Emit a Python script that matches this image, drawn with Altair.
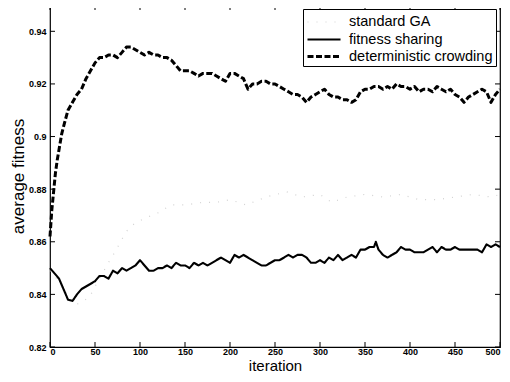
import altair as alt
import pandas as pd

series_names = ["standard GA", "fitness sharing", "deterministic crowding"]

ga_x = [0, 10, 20, 28, 35, 44, 50, 57, 63, 72, 80, 85, 94, 106, 120, 135, 150, 170, 185, 200,
        218, 240, 263, 280, 300, 313, 330, 350, 370, 390, 410, 430, 450, 470, 490, 500]
ga_y = [0.849, 0.845, 0.839, 0.836, 0.837, 0.839, 0.843, 0.847, 0.851, 0.856, 0.861, 0.864, 0.867,
        0.869, 0.871, 0.874, 0.874, 0.875, 0.875, 0.876, 0.874, 0.877, 0.879, 0.877, 0.878, 0.875,
        0.877, 0.878, 0.877, 0.878, 0.876, 0.876, 0.877, 0.878, 0.877, 0.878]

fs_x = [0, 5, 10, 15, 20, 25, 30, 35, 40, 45, 50, 55, 60, 65, 70, 75, 80, 85, 90, 95, 100, 105, 110,
        115, 120, 125, 130, 135, 140, 145, 150, 155, 160, 165, 170, 175, 180, 185, 190, 195, 200,
        205, 210, 215, 220, 225, 230, 235, 240, 245, 250, 255, 260, 265, 270, 275, 280, 285, 290,
        295, 300, 305, 310, 315, 320, 325, 330, 335, 340, 345, 350, 355, 360, 362, 365, 370, 375,
        380, 385, 390, 395, 400, 405, 410, 415, 420, 425, 430, 435, 440, 445, 450, 455, 460, 465,
        470, 475, 480, 485, 490, 495, 500]
fs_y = [0.850, 0.848, 0.846, 0.842, 0.838, 0.8375, 0.840, 0.842, 0.843, 0.844, 0.845, 0.847, 0.847,
        0.846, 0.849, 0.848, 0.850, 0.849, 0.850, 0.851, 0.853, 0.851, 0.849, 0.849, 0.850, 0.850,
        0.851, 0.850, 0.852, 0.851, 0.851, 0.850, 0.852, 0.851, 0.852, 0.851, 0.852, 0.853, 0.854,
        0.853, 0.852, 0.855, 0.854, 0.855, 0.854, 0.853, 0.852, 0.851, 0.851, 0.852, 0.853, 0.853,
        0.854, 0.855, 0.854, 0.855, 0.855, 0.854, 0.852, 0.852, 0.853, 0.852, 0.854, 0.853, 0.855,
        0.853, 0.854, 0.855, 0.854, 0.857, 0.857, 0.858, 0.858, 0.860, 0.857, 0.855, 0.854, 0.855,
        0.856, 0.858, 0.857, 0.857, 0.856, 0.856, 0.856, 0.857, 0.858, 0.856, 0.858, 0.857, 0.857,
        0.858, 0.857, 0.857, 0.857, 0.857, 0.857, 0.856, 0.859, 0.858, 0.859, 0.858]

dc_x = [0, 2, 4, 6, 8, 10, 13, 16, 20, 25, 30, 35, 40, 45, 50, 55, 60, 65, 70, 75, 80, 85, 90, 95,
        100, 105, 110, 115, 120, 125, 130, 135, 140, 145, 150, 155, 160, 165, 170, 175, 180, 185,
        190, 195, 200, 205, 210, 215, 220, 225, 230, 235, 240, 245, 250, 255, 260, 265, 270, 275,
        280, 285, 290, 295, 300, 305, 310, 315, 320, 325, 330, 335, 340, 345, 350, 355, 360, 365,
        370, 375, 380, 385, 390, 395, 400, 405, 410, 415, 420, 425, 430, 435, 440, 445, 450, 455,
        460, 465, 470, 475, 480, 485, 490, 495, 500]
dc_y = [0.862, 0.872, 0.879, 0.886, 0.891, 0.895, 0.901, 0.905, 0.910, 0.913, 0.916, 0.918, 0.922,
        0.925, 0.928, 0.930, 0.930, 0.931, 0.931, 0.930, 0.932, 0.934, 0.934, 0.933, 0.932, 0.931,
        0.932, 0.931, 0.931, 0.930, 0.930, 0.929, 0.927, 0.925, 0.925, 0.925, 0.924, 0.923, 0.924,
        0.924, 0.924, 0.923, 0.922, 0.921, 0.924, 0.924, 0.923, 0.922, 0.918, 0.920, 0.920, 0.921,
        0.921, 0.920, 0.920, 0.919, 0.918, 0.917, 0.916, 0.916, 0.915, 0.913, 0.915, 0.916, 0.917,
        0.918, 0.916, 0.915, 0.915, 0.914, 0.914, 0.913, 0.914, 0.917, 0.918, 0.918, 0.919, 0.919,
        0.918, 0.919, 0.918, 0.920, 0.919, 0.919, 0.918, 0.919, 0.917, 0.918, 0.918, 0.917, 0.919,
        0.918, 0.917, 0.918, 0.916, 0.915, 0.913, 0.915, 0.916, 0.917, 0.918, 0.917, 0.913, 0.916,
        0.918]

x_ticks = [0, 50, 100, 150, 200, 250, 300, 350, 400, 450, 500]
y_ticks = [0.82, 0.84, 0.86, 0.88, 0.90, 0.92, 0.94]

rows = []
for name, xs, ys in zip(series_names, [ga_x, fs_x, dc_x], [ga_y, fs_y, dc_y]):
    for a, b in zip(xs, ys):
        rows.append({"iteration": a, "fitness": b, "series": name})
df = pd.DataFrame(rows)

W, H = 450, 342
FONT = "Liberation Sans"

xscale = alt.Scale(domain=[0, 500], nice=False)
yscale = alt.Scale(domain=[0.82, 0.95], nice=False)

lines = alt.Chart(df).mark_line(strokeJoin="round").encode(
    x=alt.X("iteration:Q", scale=xscale,
            axis=alt.Axis(values=x_ticks, title="iteration", format="d", tickSize=0,
                          labelPadding=0, titleFontSize=15, titleY=23.7,
                          titleBaseline="alphabetic")),
    y=alt.Y("fitness:Q", scale=yscale,
            axis=alt.Axis(values=y_ticks, title="average fitness", format="~g", tickSize=0,
                          labelPadding=4, titleFontSize=17, titleX=-32,
                          titleBaseline="middle")),
    color=alt.Color("series:N", sort=series_names,
                    scale=alt.Scale(domain=series_names, range=["#d2d2d2", "black", "black"]),
                    legend=alt.Legend(title=None)),
    strokeDash=alt.StrokeDash("series:N", sort=series_names,
                              scale=alt.Scale(domain=series_names, range=[[1, 8], [1, 0], [6, 2.5]]),
                              legend=alt.Legend(title=None)),
    strokeWidth=alt.StrokeWidth("series:N", sort=series_names,
                                scale=alt.Scale(domain=series_names, range=[1.2, 3, 3]),
                                legend=alt.Legend(title=None)),
    order=alt.Order("iteration:Q"),
)

xt = pd.DataFrame({"v": x_ticks})
yt = pd.DataFrame({"v": y_ticks})
tick_x_bottom = alt.Chart(xt).mark_rule(color="black", strokeWidth=1).encode(
    x=alt.X("v:Q", scale=xscale), y=alt.value(H), y2=alt.value(H - 5))
tick_x_top = alt.Chart(xt).mark_rule(color="black", strokeWidth=1).encode(
    x=alt.X("v:Q", scale=xscale), y=alt.value(0), y2=alt.value(5))
tick_y_left = alt.Chart(yt).mark_rule(color="black", strokeWidth=1).encode(
    y=alt.Y("v:Q", scale=yscale), x=alt.value(0), x2=alt.value(5))
tick_y_right = alt.Chart(yt).mark_rule(color="black", strokeWidth=1).encode(
    y=alt.Y("v:Q", scale=yscale), x=alt.value(W), x2=alt.value(W - 5))

chart = alt.layer(lines, tick_x_bottom, tick_x_top, tick_y_left, tick_y_right).properties(
    width=W, height=H,
    autosize=alt.AutoSizeParams(type="none"),
    padding={"left": 42, "top": -3, "right": 2, "bottom": 27},
).configure_view(
    stroke="black", strokeWidth=1.2
).configure_axis(
    grid=False, domain=False,
    labelFont=FONT, labelFontSize=9, labelFontWeight="bold", labelColor="black",
    titleFont=FONT, titleFontWeight="normal", titleColor="black",
).configure_legend(
    orient="top-right", offset=4, strokeColor="black", fillColor="white",
    padding=3, cornerRadius=0, symbolType="M-1,0L2.67,0", symbolSize=324,
    labelFont=FONT, labelFontSize=14.5, labelColor="black", rowPadding=0,
    symbolStrokeColor="black", symbolFillColor="transparent", labelOffset=22,
)

chart.save("out.html", embed_options={"renderer": "svg", "actions": False})
